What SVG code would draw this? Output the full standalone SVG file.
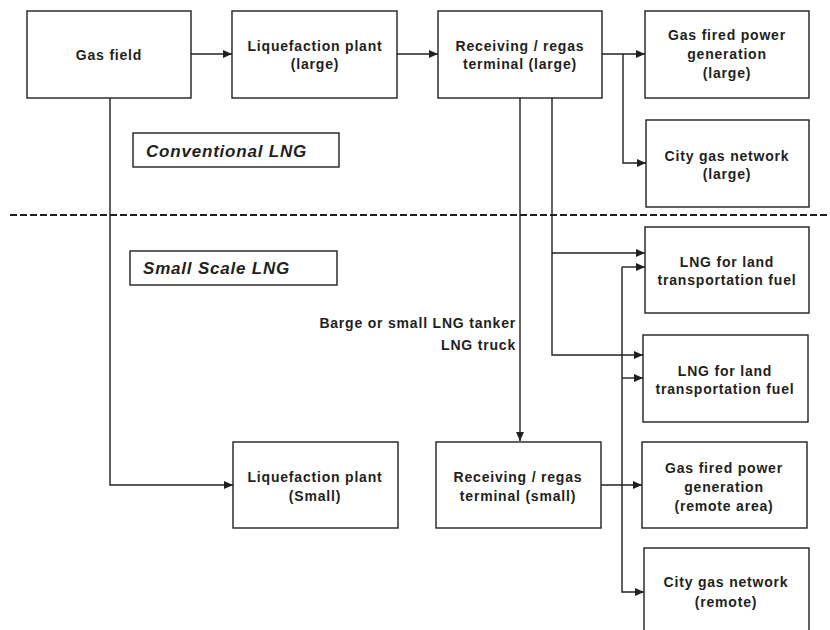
<svg xmlns="http://www.w3.org/2000/svg" width="830" height="630" viewBox="0 0 830 630">
<style>
.box{fill:#fff;stroke:#231f20;stroke-width:1.4}
.t{font-family:"Liberation Sans",Arial,sans-serif;font-weight:bold;font-size:14px;letter-spacing:0.8px;fill:#231f20;text-anchor:middle}
.lab{font-family:"Liberation Sans",Arial,sans-serif;font-weight:bold;font-style:italic;font-size:17px;letter-spacing:0.8px;fill:#231f20}
.note{font-family:"Liberation Sans",Arial,sans-serif;font-weight:bold;font-size:14px;letter-spacing:0.8px;fill:#231f20;text-anchor:end}
.c{fill:none;stroke:#231f20;stroke-width:1.4}
</style>
<defs>
<marker id="ah" markerWidth="9" markerHeight="8" refX="9" refY="4" orient="auto" markerUnits="userSpaceOnUse">
<path d="M0,0 L9,4 L0,8 Z" fill="#231f20"/>
</marker>
</defs>
<rect width="830" height="630" fill="#fff"/>
<line x1="10" y1="215" x2="830" y2="215" stroke="#231f20" stroke-width="2" stroke-dasharray="7,3"/>
<g id="connectors">
<path class="c" d="M191,54 H232" marker-end="url(#ah)"/>
<path class="c" d="M397,54 H438" marker-end="url(#ah)"/>
<path class="c" d="M602,54 H645" marker-end="url(#ah)"/>
<path class="c" d="M623,54 V163 H646" marker-end="url(#ah)"/>
<path class="c" d="M520,98 V441" marker-end="url(#ah)"/>
<path class="c" d="M552,98 V355 H643" marker-end="url(#ah)"/>
<path class="c" d="M552,253 H645" marker-end="url(#ah)"/>
<path class="c" d="M622,267 V592 H644" marker-end="url(#ah)"/>
<path class="c" d="M622,267 H645" marker-end="url(#ah)"/>
<path class="c" d="M622,378 H643" marker-end="url(#ah)"/>
<path class="c" d="M601,485 H642" marker-end="url(#ah)"/>
<path class="c" d="M110,98 V485 H233" marker-end="url(#ah)"/>
</g>
<g id="gas-field"><rect class="box" x="27" y="11" width="164" height="87"/><text class="t" x="109" y="60">Gas field</text></g>
<g id="liq-large"><rect class="box" x="232" y="11" width="165" height="87"/><text class="t" x="315" y="51">Liquefaction plant</text><text class="t" x="315" y="69">(large)</text></g>
<g id="recv-large"><rect class="box" x="438" y="11" width="164" height="87"/><text class="t" x="520" y="51">Receiving / regas</text><text class="t" x="520" y="69">terminal (large)</text></g>
<g id="power-large"><rect class="box" x="645" y="11" width="164" height="87"/><text class="t" x="727" y="40">Gas fired power</text><text class="t" x="727" y="59">generation</text><text class="t" x="727" y="78">(large)</text></g>
<g id="city-large"><rect class="box" x="646" y="120" width="163" height="87"/><text class="t" x="727" y="161">City gas network</text><text class="t" x="727" y="179">(large)</text></g>
<g id="conv-label"><rect class="box" x="133" y="133" width="206" height="34"/><text class="lab" x="146" y="157">Conventional LNG</text></g>
<g id="small-label"><rect class="box" x="130" y="251" width="207" height="34"/><text class="lab" x="143" y="274">Small Scale LNG</text></g>
<g id="lng-land-1"><rect class="box" x="645" y="227" width="164" height="86"/><text class="t" x="727" y="267">LNG for land</text><text class="t" x="727" y="285">transportation fuel</text></g>
<g id="lng-land-2"><rect class="box" x="643" y="335" width="165" height="87"/><text class="t" x="725" y="376">LNG for land</text><text class="t" x="725" y="394">transportation fuel</text></g>
<g id="transport-label"><text class="note" x="516" y="328">Barge or small LNG tanker</text><text class="note" x="516" y="350">LNG truck</text></g>
<g id="liq-small"><rect class="box" x="233" y="442" width="165" height="86"/><text class="t" x="315" y="482">Liquefaction plant</text><text class="t" x="315" y="501">(Small)</text></g>
<g id="recv-small"><rect class="box" x="436" y="442" width="165" height="86"/><text class="t" x="518" y="482">Receiving / regas</text><text class="t" x="518" y="501">terminal (small)</text></g>
<g id="power-remote"><rect class="box" x="642" y="442" width="165" height="86"/><text class="t" x="724" y="473">Gas fired power</text><text class="t" x="724" y="492">generation</text><text class="t" x="724" y="511">(remote area)</text></g>
<g id="city-remote"><rect class="box" x="644" y="548" width="165" height="95"/><text class="t" x="726" y="587">City gas network</text><text class="t" x="726" y="607">(remote)</text></g>
</svg>
